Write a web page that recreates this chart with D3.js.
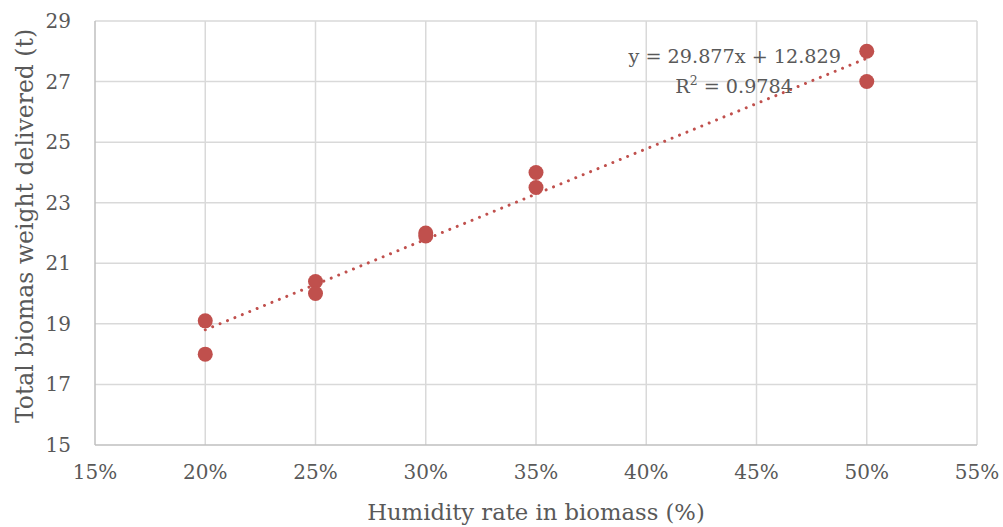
<!DOCTYPE html>
<html><head><meta charset="utf-8">
<script src="https://cdn.jsdelivr.net/npm/d3@7"></script>
<style>body{margin:0;background:#fff}svg{display:block}text{font-family:"DejaVu Serif",serif;fill:#595959}</style>
</head><body><svg id="c" width="1003" height="527"></svg>
<script>
const humidity = [0.20, 0.20, 0.25, 0.25, 0.30, 0.30, 0.35, 0.35, 0.50, 0.50];
const weight = [19.1, 18.0, 20.4, 20.0, 22.0, 21.9, 24.0, 23.5, 28.0, 27.0];
const xTicks = [0.15, 0.20, 0.25, 0.30, 0.35, 0.40, 0.45, 0.50, 0.55];
const yTicks = [15, 17, 19, 21, 23, 25, 27, 29];
const slope = 29.877, intercept = 12.829;
const eqLabel = "y = 29.877x + 12.829";
const r2Value = "0.9784";
const xTitle = "Humidity rate in biomass (%)";
const yTitle = "Total biomas weight delivered (t)";

const svg = d3.select("#c");
const L = 95, R = 977, T = 21, B = 445;
const x = d3.scaleLinear().domain([0.15, 0.55]).range([L, R]);
const y = d3.scaleLinear().domain([15, 29]).range([B, T]);

// gridlines
svg.append("g").selectAll("line").data(xTicks.slice(1)).join("line")
  .attr("x1", d => x(d)).attr("x2", d => x(d)).attr("y1", T).attr("y2", B)
  .attr("stroke", "#d9d9d9").attr("stroke-width", 1.5);
svg.append("g").selectAll("line").data(yTicks.slice(1)).join("line")
  .attr("x1", L).attr("x2", R).attr("y1", d => y(d)).attr("y2", d => y(d))
  .attr("stroke", "#d9d9d9").attr("stroke-width", 1.5);
// axis lines
svg.append("line").attr("x1", L).attr("x2", L).attr("y1", T).attr("y2", B).attr("stroke", "#bfbfbf").attr("stroke-width", 1.5);
svg.append("line").attr("x1", L).attr("x2", R).attr("y1", B).attr("y2", B).attr("stroke", "#bfbfbf").attr("stroke-width", 1.5);

// tick labels
svg.append("g").selectAll("text").data(xTicks).join("text")
  .attr("x", d => x(d)).attr("y", 479).attr("text-anchor", "middle")
  .attr("font-size", 20).text(d => d3.format(".0%")(d));
svg.append("g").selectAll("text").data(yTicks).join("text")
  .attr("x", 71).attr("y", d => y(d) + 7).attr("text-anchor", "end")
  .attr("font-size", 20).text(d => d);

// titles
svg.append("text").attr("x", (L + R) / 2).attr("y", 520).attr("text-anchor", "middle")
  .attr("font-size", 22.7).text(xTitle);
svg.append("text").attr("transform", `translate(33,226) rotate(-90)`)
  .attr("text-anchor", "middle").attr("font-size", 23.5).text(yTitle);

// trendline
const xs = d3.extent(humidity);
svg.append("line")
  .attr("x1", x(xs[0])).attr("y1", y(slope * xs[0] + intercept))
  .attr("x2", x(xs[1])).attr("y2", y(slope * xs[1] + intercept))
  .attr("stroke", "#c0504d").attr("stroke-width", 3)
  .attr("stroke-linecap", "round").attr("stroke-dasharray", "0.01 8");

// points
svg.append("g").selectAll("circle").data(humidity).join("circle")
  .attr("cx", d => x(d)).attr("cy", (d, i) => y(weight[i])).attr("r", 7.5)
  .attr("fill", "#c0504d");

// equation labels
svg.append("text").attr("x", 841).attr("y", 63).attr("text-anchor", "end")
  .attr("font-size", 19.2).text(eqLabel);
const r2 = svg.append("text").attr("x", 793).attr("y", 93).attr("text-anchor", "end").attr("font-size", 19.2);
r2.append("tspan").text("R");
r2.append("tspan").attr("dy", -8).attr("font-size", 12.5).text("2");
r2.append("tspan").attr("dy", 8).text(" = " + r2Value);
</script></body></html>
